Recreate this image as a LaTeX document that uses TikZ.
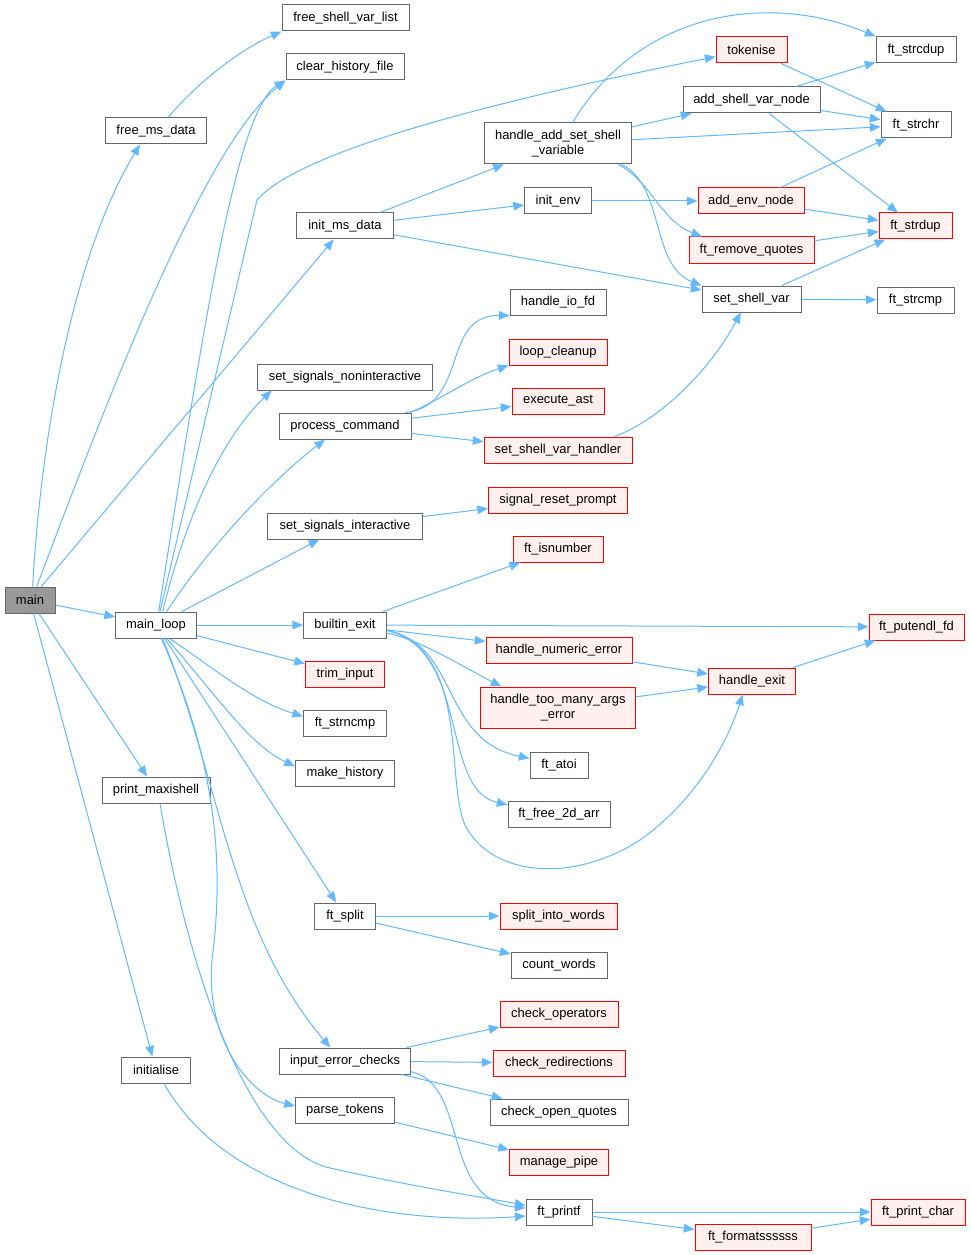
\documentclass[tikz,border=0pt]{standalone}
\usepackage{fontspec}
\setmainfont{Liberation Sans}
\usetikzlibrary{arrows.meta}
\definecolor{edgeblue}{HTML}{63B8FF}
\definecolor{bordergray}{HTML}{666666}
\definecolor{redfill}{HTML}{FFF0F0}
\definecolor{mainfill}{HTML}{999999}
\begin{document}
\begin{tikzpicture}[x=0.75pt,y=-0.75pt,
  box/.style={draw=bordergray,fill=white,line width=0.75pt,inner sep=0pt,minimum height=19.5pt,font=\fontsize{9.7}{11.4}\selectfont,align=center},
  redbox/.style={box,draw=red,fill=redfill},
  wd/.style={minimum width=#1*0.75pt},
  tall/.style={minimum height=30.75pt},
  call/.style={draw=edgeblue,line width=0.75pt,-{Triangle[length=8pt,width=6.5pt]}}]
\useasboundingbox (0,0) rectangle (970,1255);
% column 1
\node[box,fill=mainfill,wd=50] (main) at (30,600) {main};
% column 2
\node[box,wd=101] (freems) at (156,131) {free\_ms\_data};
\node[box,wd=81] (mainloop) at (156,625) {main\_loop};
\node[box,wd=108] (printmax) at (156,790) {print\_maxishell};
\node[box,wd=69] (init) at (156,1070) {initialise};
% column 3
\node[box,wd=127] (freesvl) at (345.5,18) {free\_shell\_var\_list};
\node[box,wd=118] (clearhist) at (345,67) {clear\_history\_file};
\node[box,wd=97] (initms) at (345,226) {init\_ms\_data};
\node[box,wd=175] (signon) at (345,377) {set\_signals\_noninteractive};
\node[box,wd=132] (proccmd) at (345,426) {process\_command};
\node[box,wd=155] (sigint) at (345,526) {set\_signals\_interactive};
\node[box,wd=83] (bexit) at (345,625) {builtin\_exit};
\node[redbox,wd=79] (trim) at (345,674) {trim\_input};
\node[box,wd=83] (strncmp) at (345,723) {ft\_strncmp};
\node[box,wd=99] (mkhist) at (345,773) {make\_history};
\node[box,wd=61] (split) at (345,916) {ft\_split};
\node[box,wd=131] (inerr) at (345,1061) {input\_error\_checks};
\node[box,wd=99] (parsetok) at (345,1110) {parse\_tokens};
% column 4
\node[box,wd=147,tall] (haddset) at (558,143.5) {handle\_add\_set\_shell\\\_variable};
\node[box,wd=67] (initenv) at (558,201) {init\_env};
\node[box,wd=96] (iofd) at (558,302) {handle\_io\_fd};
\node[redbox,wd=98] (loopcl) at (558,352) {loop\_cleanup};
\node[redbox,wd=92] (exec) at (558,401) {execute\_ast};
\node[redbox,wd=148] (svhandler) at (558,450) {set\_shell\_var\_handler};
\node[redbox,wd=139] (sigreset) at (558,500) {signal\_reset\_prompt};
\node[redbox,wd=90] (isnum) at (558,549) {ft\_isnumber};
\node[redbox,wd=146] (numerr) at (559,650) {handle\_numeric\_error};
\node[redbox,wd=155,tall] (toomany) at (558,707.5) {handle\_too\_many\_args\\\_error};
\node[box,wd=58] (atoi) at (559,765) {ft\_atoi};
\node[box,wd=102] (free2d) at (559,814) {ft\_free\_2d\_arr};
\node[redbox,wd=117] (splitw) at (558.5,916) {split\_into\_words};
\node[box,wd=96] (countw) at (559,965) {count\_words};
\node[redbox,wd=118] (checkop) at (559,1014) {check\_operators};
\node[redbox,wd=132] (checkred) at (559,1063) {check\_redirections};
\node[box,wd=138] (checkq) at (559,1112) {check\_open\_quotes};
\node[redbox,wd=99] (pipe) at (559,1162) {manage\_pipe};
\node[box,wd=66] (printf) at (559,1212) {ft\_printf};
% column 5
\node[redbox,wd=71] (tokenise) at (751.5,50) {tokenise};
\node[box,wd=137] (addsvn) at (751.5,100) {add\_shell\_var\_node};
\node[redbox,wd=106] (addenv) at (751,201) {add\_env\_node};
\node[redbox,wd=125] (rmq) at (751.5,250) {ft\_remove\_quotes};
\node[box,wd=99] (setsv) at (751.5,299) {set\_shell\_var};
\node[redbox,wd=87] (hexit) at (752,681) {handle\_exit};
\node[redbox,wd=116] (fmt) at (753,1237) {ft\_formatssssss};
% column 6
\node[box,wd=80] (strcdup) at (916,50) {ft\_strcdup};
\node[box,wd=70] (strchr) at (916,125) {ft\_strchr};
\node[redbox,wd=73] (strdup) at (915.5,226) {ft\_strdup};
\node[box,wd=77] (strcmp) at (915.5,300) {ft\_strcmp};
\node[redbox,wd=95] (putendl) at (916.5,627) {ft\_putendl\_fd};
\node[redbox,wd=94] (printchar) at (918,1212) {ft\_print\_char};
% edges from main
\draw[call] ([xshift=2pt]main.north) .. controls (40,450) and (70,260) .. ([xshift=-12pt]freems.south);
\draw[call] ([xshift=5pt]main.north) .. controls (100,420) and (200,150) .. (clearhist.south west);
\draw[call] (main) -- (initms);
\draw[call] (main) -- (mainloop);
\draw[call] (main) -- (printmax);
\draw[call] (main) -- (init);
\draw[call] ([xshift=9pt]freems.north) .. controls (200,80) and (240,50) .. (freesvl.south west);
% edges from main_loop
\draw[call] ([xshift=2pt]mainloop.north) .. controls (200,350) and (235,110) .. (clearhist.south west);
\draw[call] ([xshift=3pt]mainloop.north) -- (257,200) .. controls (300,150) and (500,100) .. ([yshift=-5pt]tokenise.west);
\draw[call] ([xshift=5pt]mainloop.north) .. controls (185,520) and (220,440) .. ([xshift=11pt]signon.south west);
\draw[call] ([xshift=8pt]mainloop.north) .. controls (200,560) and (260,490) .. ([xshift=-15pt]proccmd.south);
\draw[call] (mainloop) -- (sigint);
\draw[call] (mainloop) -- (bexit);
\draw[call] (mainloop) -- (trim);
\draw[call] ([xshift=10pt]mainloop.south) .. controls (210,665) and (250,700) .. ([yshift=5pt]strncmp.west);
\draw[call] ([xshift=8pt]mainloop.south) .. controls (220,700) and (250,745) .. ([yshift=5pt]mkhist.west);
\draw[call] (mainloop) -- (split);
\draw[call] ([xshift=5pt]mainloop.south) .. controls (220,780) and (230,930) .. ([xshift=-11pt]inerr.north);
\draw[call] ([xshift=4pt]mainloop.south) .. controls (215,760) and (225,860) .. (212,960) .. controls (205,1040) and (250,1095) .. ([yshift=3pt]parsetok.west);
% printf callers
\draw[call] ([xshift=3pt]printmax.south) .. controls (190,980) and (250,1150) .. (330,1168) .. controls (410,1186) and (470,1195) .. ([yshift=5pt]printf.west);
\draw[call] ([xshift=6pt]init.south) .. controls (230,1200) and (400,1225) .. ([yshift=-3pt]printf.west);
\draw[call] ([yshift=-8pt]inerr.east) .. controls (470,1085) and (440,1200) .. ([yshift=3pt]printf.west);
\draw[call] (inerr) -- (checkop);
\draw[call] (inerr) -- (checkred);
\draw[call] (inerr) -- (checkq);
\draw[call] (parsetok) -- (pipe);
\draw[call] (printf) -- (printchar);
\draw[call] (printf) -- (fmt);
\draw[call] (fmt) -- (printchar);
\draw[call] (split) -- (splitw);
\draw[call] (split) -- (countw);
% builtin_exit
\draw[call] (bexit) -- (isnum);
\draw[call] (bexit) -- (putendl);
\draw[call] (bexit) -- (numerr);
\draw[call] ([yshift=-6pt]bexit.east) .. controls (420,640) and (460,665) .. ([xshift=16pt]toomany.north west);
\draw[call] ([yshift=-4pt]bexit.east) .. controls (460,645) and (440,740) .. ([yshift=5pt]atoi.west);
\draw[call] ([yshift=-4pt]bexit.east) .. controls (470,650) and (440,790) .. ([yshift=7pt]free2d.west);
\draw[call] ([yshift=-4pt]bexit.east) .. controls (470,650) and (445,780) .. (465,825) .. controls (490,875) and (570,885) .. (640,840) .. controls (690,805) and (725,750) .. ([xshift=-7pt]hexit.south);
\draw[call] (numerr) -- (hexit);
\draw[call] (toomany) -- (hexit);
\draw[call] (hexit) -- (putendl);
% signals / process_command
\draw[call] (sigint) -- (sigreset);
\draw[call] ([xshift=-4.5pt]proccmd.north east) .. controls (470,405) and (440,315) .. (iofd.south west);
\draw[call] ([xshift=-1pt]proccmd.north east) .. controls (440,400) and (470,378) .. (loopcl.south west);
\draw[call] (proccmd) -- (exec);
\draw[call] (proccmd) -- (svhandler);
\draw[call] ([xshift=-13.5pt]svhandler.north east) .. controls (660,420) and (710,370) .. ([xshift=-8pt]setsv.south);
% init_ms_data
\draw[call] (initms) -- (haddset);
\draw[call] (initms) -- (initenv);
\draw[call] (initms) -- (setsv);
\draw[call] (initenv) -- (addenv);
\draw[call] ([xshift=11pt]haddset.north) .. controls (640,10) and (770,-8) .. (strcdup.north west);
\draw[call] (haddset) -- (addsvn);
\draw[call] (haddset) -- (strchr);
\draw[call] ([xshift=-10.5pt]haddset.south east) .. controls (650,180) and (660,220) .. ([xshift=10pt]rmq.north west);
\draw[call] ([xshift=-8pt]haddset.south east) .. controls (665,185) and (650,265) .. (setsv.north west);
\draw[call] (addsvn) -- (strcdup);
\draw[call] (addsvn) -- (strchr);
\draw[call] (addsvn) -- (strdup);
\draw[call] (tokenise) -- (strchr);
\draw[call] (addenv) -- (strchr);
\draw[call] (addenv) -- (strdup);
\draw[call] (rmq) -- (strdup);
\draw[call] (setsv) -- (strdup);
\draw[call] (setsv) -- (strcmp);
\end{tikzpicture}
\end{document}
